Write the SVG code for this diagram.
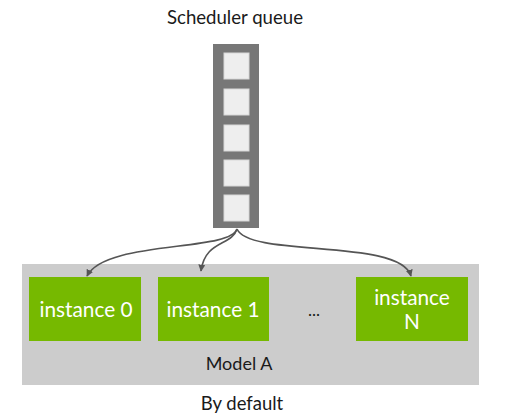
<svg xmlns="http://www.w3.org/2000/svg" width="506" height="417" viewBox="0 0 506 417">
<defs>
<style>
.lbl{font-family:Lato,"Open Sans","Liberation Sans",sans-serif;fill:#1a1a1a;text-anchor:middle}
.inst{font-family:Lato,"Open Sans","Liberation Sans",sans-serif;fill:#ffffff;text-anchor:middle;font-size:20.8px}
.box{fill:#76b900}
.slot{fill:#eeeeee;stroke:#d8d8d8;stroke-width:1}
.conn{fill:none;stroke:#555555;stroke-width:1.6}
</style>
<marker id="arr" viewBox="0 0 10 10" refX="9" refY="5" markerWidth="7" markerHeight="7" orient="auto" markerUnits="userSpaceOnUse">
<path d="M0,0 L10,5 L0,10 z" fill="#555555"/>
</marker>
</defs>
<rect width="506" height="417" fill="#ffffff"/>
<g id="title"><text class="lbl" x="235" y="24" font-size="18.6">Scheduler queue</text></g>
<g id="modelA">
<rect x="22" y="264" width="457" height="121" fill="#cccccc"/>
<text class="lbl" x="239" y="370" font-size="18">Model A</text>
</g>
<g id="queue">
<rect x="213" y="44" width="46" height="184" fill="#777777"/>
<rect class="slot" x="224" y="53" width="25" height="26"/>
<rect class="slot" x="224" y="89" width="25" height="26"/>
<rect class="slot" x="224" y="125" width="25" height="26"/>
<rect class="slot" x="224" y="160" width="25" height="26"/>
<rect class="slot" x="224" y="195" width="25" height="26"/>
</g>
<g id="connectors">
<path class="conn" d="M237,229 C230,252 105,240 87,276" marker-end="url(#arr)"/>
<path class="conn" d="M237,229 C232,246 205,240 201,271" marker-end="url(#arr)"/>
<path class="conn" d="M237,229 C250,258 400,238 411,276" marker-end="url(#arr)"/>
</g>
<g id="instance0">
<rect class="box" x="29" y="277" width="112" height="64"/>
<text class="inst" x="86" y="317">instance 0</text>
</g>
<g id="instance1">
<rect class="box" x="158" y="277" width="111" height="64"/>
<text class="inst" x="213" y="317">instance 1</text>
</g>
<g id="ellipsis"><text class="lbl" x="314" y="316" font-size="17">...</text></g>
<g id="instanceN">
<rect class="box" x="356" y="277" width="112" height="64"/>
<text class="inst" x="412" y="305">instance</text>
<text class="inst" x="412" y="329">N</text>
</g>
<g id="caption"><text class="lbl" x="242" y="410" font-size="18.5">By default</text></g>
</svg>
